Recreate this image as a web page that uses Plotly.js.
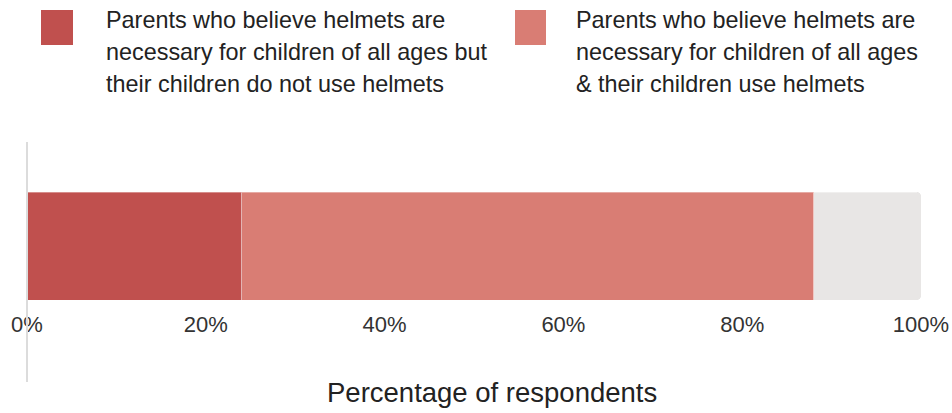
<!DOCTYPE html>
<html>
<head>
<meta charset="utf-8">
<script src="https://cdn.plot.ly/plotly-3.0.1.min.js"></script>
<style>
  html, body { margin: 0; padding: 0; background: #fff; }
  #chart { width: 952px; height: 413px; }
</style>
</head>
<body>
<div id="chart"></div>
<script>
// ---- data ----
const categories = [""];
const seriesNames = [
  "Parents who believe helmets are necessary for children of all ages but their children do not use helmets",
  "Parents who believe helmets are necessary for children of all ages & their children use helmets",
  "Other respondents"
];
const legendLines = [
  ["Parents who believe helmets are", "necessary for children of all ages but", "their children do not use helmets"],
  ["Parents who believe helmets are", "necessary for children of all ages", "& their children use helmets"]
];
const seriesValues = [[24], [64], [12]];
const seriesColors = ["#c0504e", "#d97d74", "#e8e6e5"];
const showInLegend = [true, true, false];
const tickValues = [0, 20, 40, 60, 80, 100];
const tickLabels = ["0%", "20%", "40%", "60%", "80%", "100%"];
const xTitle = "Percentage of respondents";

// ---- layout helpers (pixel geometry) ----
const W = 952, H = 413;
const plotL = 27, plotR = 921, plotT = 142, plotB = 300;
const px2x = p => (p - plotL) / (plotR - plotL);
const py2y = p => (plotB - p) / (plotB - plotT);
const FONT = "Liberation Sans, Arial, sans-serif";

const traces = seriesNames.map((name, i) => ({
  type: "bar",
  orientation: "h",
  name: name,
  x: seriesValues[i],
  y: categories,
  marker: { color: seriesColors[i], line: { color: "rgba(255,255,255,0.35)", width: 1 } },
  showlegend: false,
  hovertemplate: "%{x}%<extra></extra>"
}));

// custom legend (large swatches, multi-line labels)
const swatchX = [[41, 73], [515, 546]];
const swatchY = [10, 45];
const textX = [104, 574];
const lineCenters = [20.5, 52, 83.5];
const shapes = [];
const annotations = [];
let li = 0;
seriesNames.forEach((n, i) => {
  if (!showInLegend[i]) return;
  shapes.push({
    type: "rect", xref: "paper", yref: "paper",
    x0: px2x(swatchX[li][0]), x1: px2x(swatchX[li][1]),
    y0: py2y(swatchY[1]), y1: py2y(swatchY[0]),
    fillcolor: seriesColors[i], line: { width: 0 }
  });
  legendLines[li].forEach((t, k) => {
    annotations.push({
      xref: "paper", yref: "paper",
      x: px2x(textX[li]), y: py2y(lineCenters[k]),
      xanchor: "left", yanchor: "middle",
      text: t, showarrow: false,
      font: { family: FONT, size: 23.4, color: "#222" }
    });
  });
  li++;
});

// x-axis title (positioned as in the reference)
annotations.push({
  xref: "paper", yref: "paper",
  x: px2x(492), y: py2y(392),
  xanchor: "center", yanchor: "middle",
  text: xTitle, showarrow: false,
  font: { family: FONT, size: 27.5, color: "#222" }
});

// vertical baseline axis line
shapes.push({
  type: "line", xref: "paper", yref: "paper",
  x0: 0, x1: 0, y0: py2y(382), y1: 1,
  line: { color: "#dcdcdc", width: 2 }
});

const layout = {
  width: W, height: H,
  margin: { l: plotL, r: W - plotR, t: plotT, b: H - plotB, pad: 0 },
  paper_bgcolor: "#ffffff",
  plot_bgcolor: "#ffffff",
  barmode: "stack",
  bargap: 0,
  barcornerradius: 4,
  showlegend: false,
  font: { family: FONT, color: "#333" },
  xaxis: {
    range: [0, 100],
    tickvals: tickValues,
    ticktext: tickLabels,
    tickfont: { size: 22, color: "#333" },
    ticks: "outside", ticklen: 5, tickcolor: "rgba(0,0,0,0)",
    showgrid: false, zeroline: false, showline: false,
    fixedrange: true
  },
  yaxis: {
    range: [-0.5, 0.5 + 50 / 108],
    showticklabels: false, showgrid: false, zeroline: false, showline: false,
    fixedrange: true
  },
  shapes: shapes,
  annotations: annotations
};

Plotly.newPlot("chart", traces, layout, { displayModeBar: false, staticPlot: true });
</script>
</body>
</html>
